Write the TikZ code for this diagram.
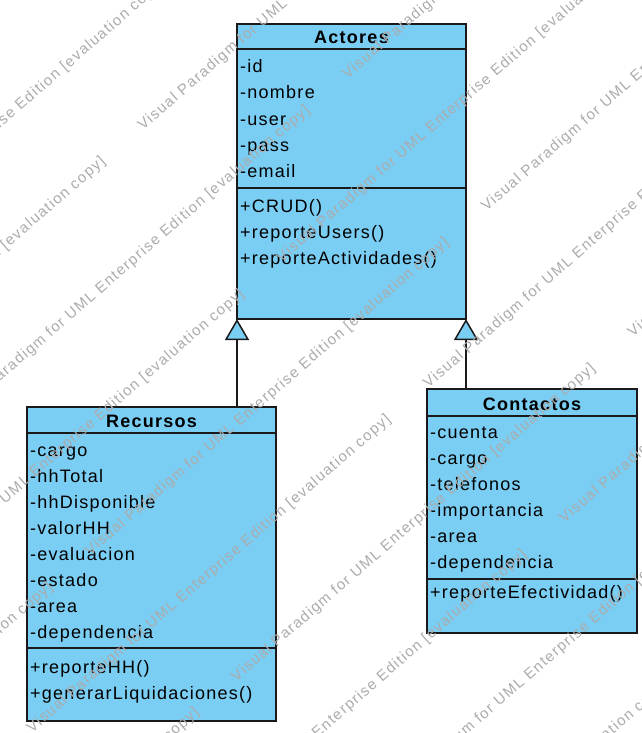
\documentclass[tikz,border=0pt]{standalone}
\usepackage{fontspec}
\setmainfont{Liberation Sans}[LetterSpace=7]
\newfontfamily\wmfont{Liberation Sans}[LetterSpace=9]
\usetikzlibrary{arrows.meta}
\definecolor{classblue}{RGB}{122,205,243}
\definecolor{edge}{RGB}{25,25,25}
\definecolor{wmgray}{RGB}{172,172,172}
\tikzset{
  classbox/.style={draw=edge, fill=classblue, line width=1.5pt, inner sep=0pt, outer sep=0pt, anchor=north west},
  member/.style={anchor=base west, inner sep=0pt, font=\fontsize{18}{20}\selectfont, text=black},
  classtitle/.style={anchor=base, inner sep=0pt, font=\fontsize{18}{20}\selectfont\bfseries, text=black},
  divider/.style={draw=edge, line width=1.5pt},
  generalization/.style={draw=edge, line width=1.5pt, -{Triangle[length=21pt,width=24pt,fill=classblue]}},
  watermark/.style={anchor=base west, inner sep=0pt, rotate=41, text=wmgray, font=\wmfont\fontsize{15}{17}\selectfont},
}
\begin{document}
\begin{tikzpicture}[x=1pt, y=-1pt]
\useasboundingbox (0,0) rectangle (642,733);
\fill[white] (0,0) rectangle (642,733);

% class Actores
\node[classbox, minimum width=229pt, minimum height=295pt] (actores) at (237,24) {};
\node[classtitle] (actores-t) at (351.5,44) {Actores};
\draw[divider] (actores.west |- 0,49) -- (actores.east |- 0,49);
\draw[divider] (actores.west |- 0,188) -- (actores.east |- 0,188);
\node[member] (actores-a1) at (240,73) {-id};
\node[member] (actores-a2) at (240,99) {-nombre};
\node[member] (actores-a3) at (240,125) {-user};
\node[member] (actores-a4) at (240,151) {-pass};
\node[member] (actores-a5) at (240,177) {-email};
\node[member] (actores-m1) at (240,212) {+CRUD()};
\node[member] (actores-m2) at (240,238) {+reporteUsers()};
\node[member] (actores-m3) at (240,264) {+reporteActividades()};

% class Recursos
\node[classbox, minimum width=249pt, minimum height=314pt] (recursos) at (27,407) {};
\node[classtitle] (recursos-t) at (151.5,427) {Recursos};
\draw[divider] (recursos.west |- 0,433) -- (recursos.east |- 0,433);
\draw[divider] (recursos.west |- 0,648) -- (recursos.east |- 0,648);
\node[member] (recursos-a1) at (30,456) {-cargo};
\node[member] (recursos-a2) at (30,482) {-hhTotal};
\node[member] (recursos-a3) at (30,508) {-hhDisponible};
\node[member] (recursos-a4) at (30,534) {-valorHH};
\node[member] (recursos-a5) at (30,560) {-evaluacion};
\node[member] (recursos-a6) at (30,586) {-estado};
\node[member] (recursos-a7) at (30,612) {-area};
\node[member] (recursos-a8) at (30,638) {-dependencia};
\node[member] (recursos-m1) at (30,673) {+reporteHH()};
\node[member] (recursos-m2) at (30,699) {+generarLiquidaciones()};

% class Contactos
\node[classbox, minimum width=210pt, minimum height=244pt] (contactos) at (427,389) {};
\node[classtitle] (contactos-t) at (532,410) {Contactos};
\draw[divider] (contactos.west |- 0,416) -- (contactos.east |- 0,416);
\draw[divider] (contactos.west |- 0,579) -- (contactos.east |- 0,579);
\node[member] (contactos-a1) at (430,438) {-cuenta};
\node[member] (contactos-a2) at (430,464) {-cargo};
\node[member] (contactos-a3) at (430,490) {-telefonos};
\node[member] (contactos-a4) at (430,516) {-importancia};
\node[member] (contactos-a5) at (430,542) {-area};
\node[member] (contactos-a6) at (430,568) {-dependencia};
\node[member] (contactos-m1) at (430,598) {+reporteEfectividad()};

% generalizations
\draw[generalization] (actores.south west |- recursos.north) -- (actores.south west);
\draw[generalization] (actores.south east |- contactos.north) -- (actores.south east);

% evaluation watermark, repeated along parallel diagonals
\begin{scope}
  \clip (0,0) rectangle (642,733);
  \foreach \k/\so in {0/5,1/184,2/22,3/210,4/40,5/228,6/68,7/256,8/82,9/280,10/105} {
    \foreach \n in {-2,-1,0,1} {
      \pgfmathsetmacro\ss{\so+525*\n}
      \pgfmathsetmacro\cc{1.5+95.5*\k}
      \node[watermark] (wm-\k-\n) at ({\ss*0.7547+\cc*0.6561},{-\ss*0.6561+\cc*0.7547})
        {Visual Paradigm for UML Enterprise Edition [evaluation copy]};
    }
  }
\end{scope}
\end{tikzpicture}
\end{document}
